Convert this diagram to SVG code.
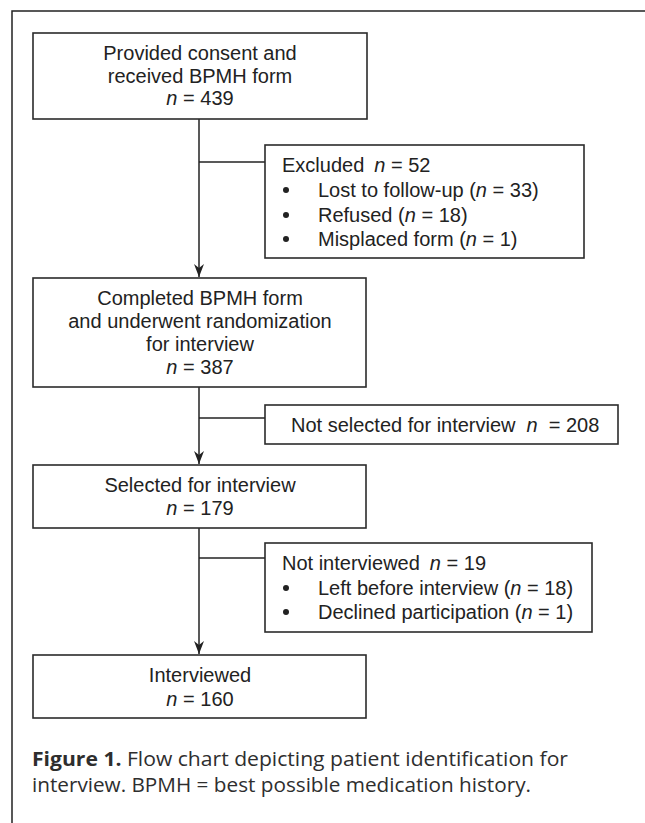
<svg xmlns="http://www.w3.org/2000/svg" width="645" height="823" viewBox="0 0 645 823">
  <style>
    .box { fill: #ffffff; stroke: #2b2b2b; stroke-width: 1.6; }
    .frame { fill: none; stroke: #222222; stroke-width: 1.5; }
    .conn { fill: none; stroke: #222222; stroke-width: 1.5; }
    .t { font-family: "Liberation Sans", Arial, sans-serif; font-size: 20px; fill: #222222; }
    .c { text-anchor: middle; }
    .i { font-style: italic; }
    .bul { fill: #222222; }
    .cap { font-family: "Open Sans", "Noto Sans", sans-serif; font-size: 19.5px; fill: #2e2e2e; }
    .b { font-weight: bold; }
  </style>
  <defs>
    <marker id="arrow" markerUnits="userSpaceOnUse" markerWidth="14" markerHeight="12" viewBox="0 0 14 12" refX="13" refY="6" orient="auto">
      <path d="M0,1 L13,6 L0,11 L4,6 Z" fill="#222222"/>
    </marker>
  </defs>
  <rect width="645" height="823" fill="#ffffff"/>
  <path class="frame" d="M645,11 H12 V823"/>

  <g id="connectors">
    <line class="conn" x1="199" y1="119" x2="199" y2="277" marker-end="url(#arrow)"/>
    <line class="conn" x1="199" y1="162" x2="265" y2="162"/>
    <line class="conn" x1="199" y1="387" x2="199" y2="464" marker-end="url(#arrow)"/>
    <line class="conn" x1="199" y1="418" x2="265" y2="418"/>
    <line class="conn" x1="199" y1="528" x2="199" y2="654" marker-end="url(#arrow)"/>
    <line class="conn" x1="199" y1="558" x2="265" y2="558"/>
  </g>

  <g id="node-consent">
    <rect class="box" x="33" y="33" width="334" height="86"/>
    <text class="t c" x="200" y="60">Provided consent and</text>
    <text class="t c" x="200" y="82.5">received BPMH form</text>
    <text class="t c" x="200" y="105"><tspan class="i">n</tspan> = 439</text>
  </g>

  <g id="node-excluded">
    <rect class="box" x="265" y="145" width="319" height="113"/>
    <text class="t" x="282" y="172">Excluded<tspan class="i" dx="10">n</tspan> = 52</text>
    <circle class="bul" cx="286" cy="190" r="3"/>
    <text class="t" x="318" y="197">Lost to follow-up (<tspan class="i">n</tspan> = 33)</text>
    <circle class="bul" cx="286" cy="215" r="3"/>
    <text class="t" x="318" y="222">Refused (<tspan class="i">n</tspan> = 18)</text>
    <circle class="bul" cx="286" cy="239" r="3"/>
    <text class="t" x="318" y="246">Misplaced form (<tspan class="i">n</tspan> = 1)</text>
  </g>

  <g id="node-completed">
    <rect class="box" x="33" y="278" width="333" height="109"/>
    <text class="t c" x="200" y="305">Completed BPMH form</text>
    <text class="t c" x="200" y="328">and underwent randomization</text>
    <text class="t c" x="200" y="351">for interview</text>
    <text class="t c" x="200" y="374"><tspan class="i">n</tspan> = 387</text>
  </g>

  <g id="node-not-selected">
    <rect class="box" x="265" y="405" width="353" height="39"/>
    <text class="t" x="291" y="432">Not selected for interview<tspan class="i" dx="11">n</tspan><tspan dx="11">= 208</tspan></text>
  </g>

  <g id="node-selected">
    <rect class="box" x="33" y="465" width="333" height="63"/>
    <text class="t c" x="200" y="492">Selected for interview</text>
    <text class="t c" x="200" y="515"><tspan class="i">n</tspan> = 179</text>
  </g>

  <g id="node-not-interviewed">
    <rect class="box" x="265" y="543" width="327" height="89"/>
    <text class="t" x="282" y="570">Not interviewed<tspan class="i" dx="10">n</tspan> = 19</text>
    <circle class="bul" cx="286" cy="588" r="3"/>
    <text class="t" x="318" y="595">Left before interview (<tspan class="i">n</tspan> = 18)</text>
    <circle class="bul" cx="286" cy="612" r="3"/>
    <text class="t" x="318" y="619">Declined participation (<tspan class="i">n</tspan> = 1)</text>
  </g>

  <g id="node-interviewed">
    <rect class="box" x="33" y="655" width="333" height="63"/>
    <text class="t c" x="200" y="682">Interviewed</text>
    <text class="t c" x="200" y="706"><tspan class="i">n</tspan> = 160</text>
  </g>

  <g id="caption">
    <text class="cap" x="32" y="766" textLength="536" lengthAdjust="spacingAndGlyphs"><tspan class="b">Figure 1.</tspan> Flow chart depicting patient identification for</text>
    <text class="cap" x="32" y="792" textLength="499" lengthAdjust="spacingAndGlyphs">interview. BPMH = best possible medication history.</text>
  </g>
</svg>
